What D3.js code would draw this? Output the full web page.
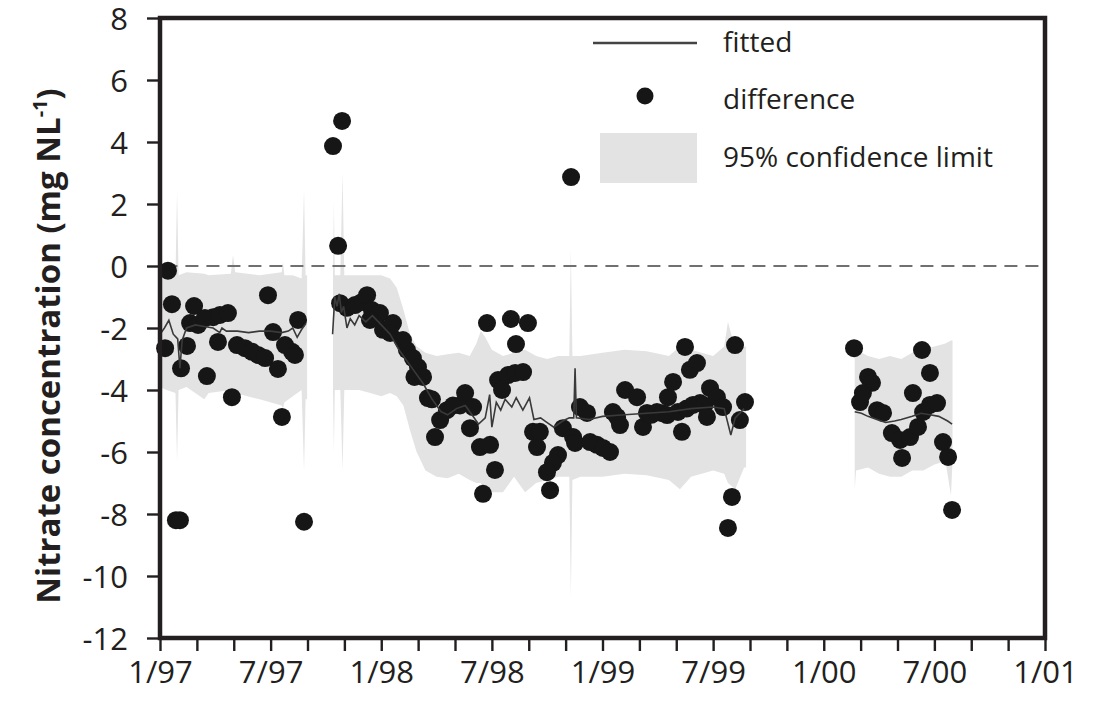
<!DOCTYPE html>
<html>
<head>
<meta charset="utf-8">
<script src="https://cdn.jsdelivr.net/npm/d3@7"></script>
<style>
  body { margin: 0; background: #fff; }
  svg { display: block; font-family: "Open Sans", sans-serif; }
</style>
</head>
<body>
<svg id="chart"></svg>
<script>
// difference points (decimal year, mg N/L)
var diffYears = [
  1997.036, 1997.054, 1997.023, 1997.122, 1997.095, 1997.072, 1997.090, 1997.154,
  1997.136, 1997.172, 1997.203, 1997.240, 1997.271, 1997.307, 1997.212, 1997.262,
  1997.325, 1997.348, 1997.384, 1997.416, 1997.443, 1997.475, 1997.488, 1997.511,
  1997.533, 1997.551, 1997.565, 1997.597, 1997.610, 1997.624, 1997.651,
  1997.782, 1997.823, 1997.805, 1997.814, 1997.845, 1997.881, 1997.913, 1997.936,
  1997.958, 1997.994, 1997.949, 1998.008, 1998.053, 1998.040, 1998.098, 1998.116,
  1998.143, 1998.166, 1998.150, 1998.189, 1998.211, 1998.229, 1998.266, 1998.243,
  1998.297, 1998.324, 1998.356, 1998.379, 1998.415, 1998.401, 1998.446, 1998.492,
  1998.514, 1998.460, 1998.478, 1998.586, 1998.663, 1998.609, 1998.528, 1998.546,
  1998.573, 1998.605, 1998.641, 1998.686, 1998.717, 1998.704, 1998.799, 1998.776,
  1998.749, 1998.763, 1998.821, 1998.867, 1998.898, 1998.930, 1998.876, 1998.944,
  1998.975, 1999.002, 1999.034, 1999.066, 1998.858,
  1999.047, 1999.079, 1999.102, 1999.156, 1999.183, 1999.201, 1999.220, 1999.246,
  1999.270, 1999.292, 1999.296, 1999.319, 1999.341, 1999.359, 1999.373, 1999.380,
  1999.395, 1999.409, 1999.427, 1999.441, 1999.460, 1999.472, 1999.486, 1999.517,
  1999.545, 1999.567, 1999.585, 1999.599, 1999.621, 1999.644,
  2000.137, 2000.200, 2000.218, 2000.164, 2000.177, 2000.241, 2000.268, 2000.308,
  2000.345, 2000.354, 2000.390, 2000.403, 2000.426, 2000.449, 2000.480, 2000.512,
  2000.444, 2000.480, 2000.539, 2000.562, 2000.580
];
var diffValues = [
  -0.15, -1.23, -2.65, -2.58, -3.3, -8.2, -8.2, -1.29,
  -1.84, -1.9, -1.68, -1.65, -1.58, -1.52, -3.55, -2.45,
  -4.23, -2.55, -2.65, -2.77, -2.87, -2.97, -0.94, -2.13,
  -3.32, -4.87, -2.55, -2.77, -2.87, -1.74, -8.25,
  3.87, 4.68, 0.65, -1.2, -1.35, -1.26, -1.16, -0.94,
  -1.42, -1.52, -1.74, -2.06, -1.84, -2.16, -2.39, -2.71,
  -2.97, -3.26, -3.58, -3.58, -4.26, -4.3, -4.97, -5.52,
  -4.65, -4.5, -4.5, -4.1, -4.55, -5.23, -5.84, -5.77,
  -6.58, -7.35, -1.84, -1.71, -1.84, -2.52, -3.68, -4.0,
  -3.52, -3.45, -3.42, -5.35, -5.35, -5.84, -6.1, -6.35,
  -6.65, -7.23, -5.23, -5.52, -4.55, -4.74, -5.71, -5.68,
  -5.77, -5.87, -6.0, -4.87, 2.87,
  -4.71, -5.13, -4.0, -4.23, -5.19, -4.74, -4.8, -4.71,
  -4.75, -4.81, -4.23, -3.74, -4.71, -5.35, -2.61, -4.6,
  -3.35, -4.48, -3.13, -4.42, -4.5, -4.87, -3.94, -4.23,
  -4.55, -8.45, -7.45, -2.55, -4.97, -4.39,
  -2.65, -3.58, -3.77, -4.39, -4.1, -4.65, -4.74, -5.39,
  -5.61, -6.19, -5.52, -4.1, -5.19, -4.71, -4.48, -4.42,
  -2.71, -3.45, -5.68, -6.16, -7.87
];

// fitted line, null breaks the gaps
var fitYears = [
  1997.00, 1997.02, 1997.04, 1997.06, 1997.08, 1997.09, 1997.10, 1997.12, 1997.16,
  1997.20, 1997.24, 1997.27, 1997.28, 1997.30, 1997.35, 1997.40, 1997.45, 1997.50,
  1997.55, 1997.58, 1997.60, 1997.62, 1997.64, 1997.66,
  null,
  1997.780, 1997.790, 1997.800, 1997.810, 1997.820, 1997.830, 1997.845, 1997.860,
  1997.880, 1997.900, 1997.930, 1997.960, 1998.000, 1998.040, 1998.080, 1998.120,
  1998.150, 1998.190, 1998.230, 1998.270, 1998.300, 1998.340, 1998.380, 1998.410,
  1998.440, 1998.470, 1998.490, 1998.500, 1998.520, 1998.540, 1998.560, 1998.590,
  1998.610, 1998.640, 1998.670, 1998.690, 1998.720, 1998.750, 1998.780, 1998.820,
  1998.850, 1998.870, 1998.876, 1998.882, 1998.940, 1999.000, 1999.100, 1999.200,
  1999.300, 1999.400, 1999.500, 1999.550, 1999.580, 1999.600, 1999.640,
  null,
  2000.140, 2000.170, 2000.200, 2000.240, 2000.280, 2000.320, 2000.350, 2000.400,
  2000.440, 2000.480, 2000.520, 2000.560, 2000.580
];
var fitValues = [
  -2.2, -2.0, -1.75, -2.2, -2.35, -3.3, -2.4, -2.0, -1.9,
  -1.95, -2.0, -2.15, -2.0, -2.1, -2.1, -2.15, -2.1, -2.1,
  -2.15, -2.1, -2.0, -2.3, -2.05, -1.85,
  null,
  -2.2, -1.0, -1.3, -0.9, -1.5, -1.3, -2.0, -1.7,
  -1.9, -1.6, -1.8, -1.6, -1.9, -2.2, -2.7, -3.1,
  -3.4, -3.8, -4.3, -4.7, -4.8, -4.6, -4.5, -4.8,
  -5.1, -4.9, -4.15, -5.2, -4.4, -4.65, -4.3, -4.55,
  -4.25, -4.65, -4.25, -4.95, -4.9, -5.05, -5.2, -5.0,
  -4.9, -4.9, -3.3, -4.9, -4.95, -4.85, -4.8, -4.75,
  -4.7, -4.6, -4.55, -4.6, -5.45, -4.9, -4.6,
  null,
  -4.7, -4.75, -4.85, -4.95, -5.05, -5.0, -4.95, -4.85,
  -4.75, -4.8, -4.85, -5.0, -5.1
];

// 95% confidence band, null breaks the gaps
var bandYears = [
  1997.000, 1997.030, 1997.070, 1997.077, 1997.084, 1997.120, 1997.200, 1997.220,
  1997.320, 1997.330, 1997.340, 1997.450, 1997.550, 1997.556, 1997.562, 1997.600,
  1997.640, 1997.651, 1997.658, 1997.665,
  null,
  1997.782, 1997.786, 1997.790, 1997.815, 1997.825, 1997.833, 1997.900, 1997.950,
  1998.000, 1998.040, 1998.070, 1998.100, 1998.130, 1998.160, 1998.200, 1998.250,
  1998.300, 1998.350, 1998.400, 1998.430, 1998.450, 1998.470, 1998.500, 1998.550,
  1998.600, 1998.650, 1998.700, 1998.750, 1998.800, 1998.850, 1998.857, 1998.864,
  1998.900, 1999.000, 1999.100, 1999.200, 1999.300, 1999.350, 1999.400, 1999.500,
  1999.550, 1999.567, 1999.600, 1999.640, 1999.649,
  null,
  2000.140, 2000.146, 2000.200, 2000.250, 2000.300, 2000.350, 2000.400, 2000.450,
  2000.500, 2000.550, 2000.575, 2000.582
];
var bandLow = [
  -3.9, -4.0, -4.1, -6.3, -4.0, -3.9, -4.3, -4.1,
  -4.0, -4.2, -4.1, -4.3, -4.5, -4.6, -4.4, -4.2,
  -4.0, -6.6, -4.3, -4.3,
  null,
  -4.0, -6.0, -4.0, -4.0, -6.6, -4.0, -4.0, -4.1,
  -4.2, -4.1, -4.2, -4.5, -5.3, -6.0, -6.6, -6.8,
  -6.85, -6.7, -6.9, -7.0, -7.0, -7.4, -7.3, -7.3,
  -6.8, -7.3, -7.0, -6.9, -6.8, -6.8, -10.7, -6.9,
  -6.8, -6.8, -6.7, -6.75, -6.9, -7.2, -6.8, -6.6,
  -6.7, -7.0, -7.2, -6.5, -6.5,
  null,
  -7.2, -6.6, -6.5, -6.7, -6.8, -6.8, -6.6, -6.6,
  -6.4, -6.3, -7.4, -6.3
];
var bandHigh = [
  -0.2, -0.2, -0.3, 2.4, -0.3, -0.2, -0.25, -0.3,
  -0.25, 0.35, -0.2, -0.3, -0.2, 0.13, -0.3, -0.3,
  -0.4, 2.45, -0.3, -0.3,
  null,
  -0.3, 2.1, -0.3, -0.3, 3.0, -0.3, -0.3, -0.3,
  -0.3, -0.4, -0.7, -1.4, -2.2, -2.6, -2.8, -2.9,
  -2.85, -2.8, -2.9, -2.5, -2.1, -2.3, -2.7, -2.9,
  -2.8, -2.7, -2.9, -3.0, -2.9, -2.9, 0.55, -2.9,
  -2.9, -2.8, -2.7, -2.75, -2.9, -2.6, -2.7, -2.9,
  -2.6, -1.8, -2.7, -2.6, -2.6,
  null,
  -2.6, -2.7, -2.9, -3.0, -2.9, -3.0, -2.8, -2.7,
  -2.6, -2.5, -2.4, -2.4
];

var yTicks = [-12, -10, -8, -6, -4, -2, 0, 2, 4, 6, 8];
var xTickLabels = ["1/97", "7/97", "1/98", "7/98", "1/99", "7/99", "1/00", "7/00", "1/01"];

var ink = "#231f20";

var dimensions = {
  width: 1094,
  height: 703,
  margin: { top: 18, right: 49, bottom: 65, left: 160 },
};
dimensions.boundedWidth =
  dimensions.width - dimensions.margin.left - dimensions.margin.right;
dimensions.boundedHeight =
  dimensions.height - dimensions.margin.top - dimensions.margin.bottom;

var svg = d3
  .select("#chart")
  .attr("width", dimensions.width)
  .attr("height", dimensions.height);

var bounds = svg
  .append("g")
  .attr(
    "transform",
    "translate(" + dimensions.margin.left + "," + dimensions.margin.top + ")"
  );

// scales
var xScale = d3.scaleLinear().domain([1997, 2001]).range([0, dimensions.boundedWidth]);
var yScale = d3.scaleLinear().domain([-12, 8]).range([dimensions.boundedHeight, 0]);

// confidence band
var bandData = bandYears.map(function (t, i) {
  return { t: t, lo: bandLow[i], hi: bandHigh[i] };
});
var band = d3
  .area()
  .defined(function (d) { return d.t !== null; })
  .x(function (d) { return xScale(d.t); })
  .y0(function (d) { return yScale(d.lo); })
  .y1(function (d) { return yScale(d.hi); });
bounds.append("path").datum(bandData).attr("d", band).attr("fill", "#e3e3e3");

// zero line
bounds
  .append("line")
  .attr("x1", xScale(1997.02))
  .attr("x2", xScale(2000.98))
  .attr("y1", yScale(0))
  .attr("y2", yScale(0))
  .attr("stroke", "#707070")
  .attr("stroke-width", 2.2)
  .attr("stroke-dasharray", "13,8");

// difference dots
bounds
  .selectAll(".dot")
  .data(diffYears)
  .enter()
  .append("circle")
  .attr("class", "dot")
  .attr("cx", function (d) { return xScale(d); })
  .attr("cy", function (d, i) { return yScale(diffValues[i]); })
  .attr("r", 9)
  .attr("fill", "#161616");

// fitted line
var fitData = fitYears.map(function (t, i) {
  return { t: t, v: fitValues[i] };
});
var fitLine = d3
  .line()
  .defined(function (d) { return d.t !== null; })
  .x(function (d) { return xScale(d.t); })
  .y(function (d) { return yScale(d.v); });
bounds
  .append("path")
  .datum(fitData)
  .attr("d", fitLine)
  .attr("fill", "none")
  .attr("stroke", "#3a3a3a")
  .attr("stroke-width", 1.6);

// y axis (plain hyphen for negatives, as in the original)
var yAxis = d3
  .axisLeft(yScale)
  .tickValues(yTicks)
  .tickSize(13)
  .tickPadding(19)
  .tickSizeOuter(0)
  .tickFormat(function (d) { return String(d); });
var yAxisG = bounds.append("g").call(yAxis);

// x axis: ticks every two months, labels every six
var xTicks = d3.range(25).map(function (i) { return 1997 + i / 6; });
var xAxis = d3
  .axisBottom(xScale)
  .tickValues(xTicks)
  .tickSize(13)
  .tickPadding(10)
  .tickSizeOuter(0)
  .tickFormat(function (d, i) {
    return i % 3 === 0 ? xTickLabels[i / 3] : "";
  });
var xAxisG = bounds
  .append("g")
  .attr("transform", "translate(0," + dimensions.boundedHeight + ")")
  .call(xAxis);

[yAxisG, xAxisG].forEach(function (g) {
  g.select(".domain").remove();
  g.selectAll("line").attr("stroke", ink).attr("stroke-width", 2.4);
  g.selectAll("text")
    .attr("fill", ink)
    .style("font-size", "31px")
    .style("font-family", '"Open Sans", sans-serif');
});
yAxisG.selectAll("text").attr("dy", "0.36em");

// frame
bounds
  .append("rect")
  .attr("x", 0)
  .attr("y", 0)
  .attr("width", dimensions.boundedWidth)
  .attr("height", dimensions.boundedHeight)
  .attr("fill", "none")
  .attr("stroke", ink)
  .attr("stroke-width", 4.5);

// y label
var yLabel = svg
  .append("text")
  .attr("transform", "translate(60,346) rotate(-90)")
  .attr("text-anchor", "middle")
  .attr("fill", ink)
  .style("font-size", "33px")
  .style("font-weight", "bold");
yLabel.append("tspan").text("Nitrate concentration (mg NL");
yLabel.append("tspan").attr("baseline-shift", "super").style("font-size", "20px").text("-1");
yLabel.append("tspan").text(")");

// legend
var legend = svg.append("g").style("font-size", "28px").attr("fill", ink);
legend
  .append("line")
  .attr("x1", 593).attr("x2", 697)
  .attr("y1", 43).attr("y2", 43)
  .attr("stroke", "#444")
  .attr("stroke-width", 2.6);
legend.append("text").attr("x", 723).attr("y", 52).text("fitted");
legend
  .append("circle")
  .attr("cx", 645).attr("cy", 96)
  .attr("r", 8.5)
  .attr("fill", "#161616");
legend.append("text").attr("x", 723).attr("y", 109).text("difference");
legend
  .append("rect")
  .attr("x", 600).attr("y", 133)
  .attr("width", 97).attr("height", 50)
  .attr("fill", "#e3e3e3");
legend.append("text").attr("x", 723).attr("y", 167).text("95% confidence limit");
</script>
</body>
</html>
